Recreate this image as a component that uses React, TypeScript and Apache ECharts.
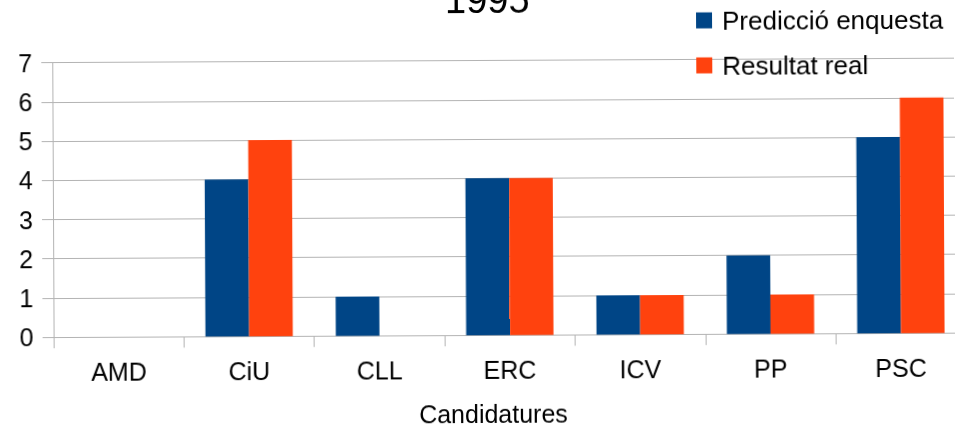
import React, { useEffect, useRef } from "react";
import * as echarts from "echarts";

const categories = ["AMD", "CiU", "CLL", "ERC", "ICV", "PP", "PSC"];
const prediccio = [0, 4, 1, 4, 1, 2, 5];
const resultat = [0, 5, 0, 4, 1, 1, 6];
const seriesNames = ["Predicció enquesta", "Resultat real"];
const titleText = "1995";
const xAxisTitle = "Candidatures";

const FONT = "'Liberation Sans', Arial, sans-serif";
const GRAY = "#b3b3b3";

export default function App() {
  const ref = useRef<HTMLDivElement>(null);
  useEffect(() => {
    if (!ref.current) return;
    const chart = echarts.init(ref.current, undefined, { renderer: "svg" });
    chart.setOption({
      animation: false,
      backgroundColor: "#ffffff",
      textStyle: { fontFamily: FONT },
      title: {
        text: titleText,
        left: 446,
        top: -19,
        padding: 0,
        textStyle: { fontSize: 38, fontWeight: "normal", color: "#000", fontFamily: FONT, lineHeight: 38 },
      },
      legend: {
        orient: "vertical",
        left: 697,
        top: 8.5,
        padding: 0,
        itemGap: 19,
        itemWidth: 16,
        itemHeight: 16,
        icon: "rect",
        textStyle: { fontSize: 26, color: "#000", fontFamily: FONT, lineHeight: 25, padding: [0, 0, 0, 5] },
        data: seriesNames,
      },
      grid: {
        left: 53,
        right: -10.5,
        top: 60.6,
        bottom: 91.8,
        containLabel: false,
        outerBoundsMode: "none",
      },
      xAxis: {
        type: "category",
        data: categories,
        axisLine: { lineStyle: { color: GRAY, width: 1 } },
        axisTick: { show: true, length: 11, lineStyle: { color: GRAY } },
        axisLabel: { color: "#000", fontSize: 25, lineHeight: 25, margin: 22, fontFamily: FONT },
      },
      yAxis: {
        type: "value",
        min: 0,
        max: 7,
        interval: 1,
        axisLine: { show: true, lineStyle: { color: GRAY, width: 1 } },
        axisTick: { show: true, length: 11, lineStyle: { color: GRAY } },
        axisLabel: { color: "#000", fontSize: 25, margin: 20, fontFamily: FONT },
        splitLine: { show: true, lineStyle: { color: GRAY, width: 1 } },
      },
      graphic: [
        {
          type: "text",
          x: 492.5,
          y: 414,
          style: {
            text: xAxisTitle,
            fontSize: 25,
            lineHeight: 20,
            fontFamily: FONT,
            fill: "#000",
            textAlign: "center",
            textVerticalAlign: "middle",
          },
        },
      ],
      series: [
        {
          name: seriesNames[0],
          type: "bar",
          data: prediccio,
          barGap: "0%",
          barCategoryGap: "33%",
          itemStyle: { color: "#004586" },
        },
        {
          name: seriesNames[1],
          type: "bar",
          data: resultat,
          barGap: "0%",
          barCategoryGap: "33%",
          itemStyle: { color: "#ff420e" },
        },
      ],
    });
    return () => chart.dispose();
  }, []);
  return (
    <div
      ref={ref}
      style={{
        position: "fixed",
        left: 0,
        top: 0,
        width: 955,
        height: 427,
        background: "#fff",
        transform: "rotate(-0.28deg)",
        transformOrigin: "477.5px 213.5px",
      }}
    />
  );
}
